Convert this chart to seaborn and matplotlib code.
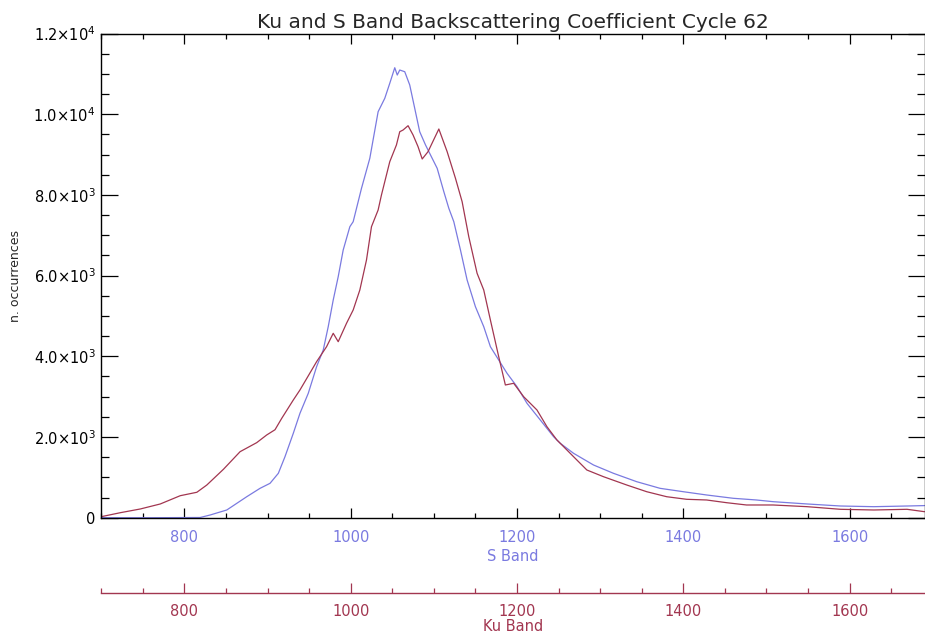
import matplotlib
matplotlib.use("Agg")
import matplotlib.pyplot as plt
import seaborn as sns
import pandas as pd
from matplotlib.ticker import MultipleLocator, FixedLocator

# ---- data ----
s_band_x = [700, 760, 819, 831, 851, 875, 891, 903, 913, 921, 931, 939, 949, 959, 967, 973,
            979, 985, 991, 999, 1003, 1013, 1023, 1033, 1041, 1047, 1053, 1056, 1059, 1065,
            1071, 1077, 1083, 1090, 1096, 1104, 1112, 1118, 1124, 1132, 1140, 1150, 1160,
            1168, 1178, 1188, 1200, 1212, 1228, 1244, 1252, 1268, 1292, 1316, 1344, 1372,
            1400, 1428, 1460, 1488, 1508, 1549, 1589, 1629, 1669, 1690]
s_band_y = [0, 0, 5, 67, 191, 520, 728, 852, 1100, 1512, 2092, 2587, 3083, 3742, 4156, 4734,
            5395, 5973, 6635, 7212, 7336, 8163, 8907, 10062, 10394, 10766, 11152, 10971, 11095,
            11053, 10724, 10146, 9566, 9237, 8989, 8659, 8080, 7668, 7336, 6635, 5891, 5229,
            4734, 4238, 3908, 3579, 3247, 2835, 2421, 2007, 1844, 1596, 1306, 1100, 892, 728,
            644, 563, 481, 439, 397, 340, 290, 273, 290, 300]

ku_band_x = [700, 723, 747, 771, 795, 815, 827, 847, 867, 887, 899, 909, 917, 931, 939, 959,
             971, 979, 985, 995, 1003, 1011, 1019, 1025, 1033, 1037, 1047, 1055, 1059, 1063,
             1069, 1075, 1081, 1086, 1093, 1106, 1116, 1126, 1134, 1142, 1152, 1160, 1168,
             1178, 1186, 1196, 1208, 1224, 1236, 1248, 1252, 1268, 1284, 1304, 1332, 1356,
             1380, 1404, 1428, 1452, 1476, 1508, 1549, 1589, 1629, 1669, 1690]
ku_band_y = [25, 124, 216, 340, 545, 630, 810, 1200, 1636, 1860, 2050, 2180, 2460, 2917, 3165,
             3866, 4238, 4570, 4362, 4818, 5148, 5643, 6387, 7212, 7626, 7998, 8823, 9237,
             9566, 9608, 9715, 9485, 9195, 8890, 9071, 9633, 9071, 8411, 7832, 6964, 6057,
             5643, 4900, 3990, 3289, 3331, 2999, 2669, 2255, 1926, 1844, 1512, 1182, 1016,
             810, 644, 520, 456, 439, 372, 315, 315, 273, 208, 191, 208, 149]

title = "Ku and S Band Backscattering Coefficient Cycle 62"
ylabel = "n. occurrences"
s_label = "S Band"
ku_label = "Ku Band"
x_ticks = [800, 1000, 1200, 1400, 1600]
y_ticks = [0, 2000, 4000, 6000, 8000, 10000, 12000]
y_ticklabels = ["0", r"$2.0{\times}10^{3}$", r"$4.0{\times}10^{3}$", r"$6.0{\times}10^{3}$",
                r"$8.0{\times}10^{3}$", r"$1.0{\times}10^{4}$", r"$1.2{\times}10^{4}$"]

BLUE = "#7a7ae0"
RED = "#a23650"

sns.set_style("ticks")
plt.rcParams["font.family"] = ["DejaVu Sans"]
plt.rcParams["mathtext.fontset"] = "dejavusans"

fig = plt.figure(figsize=(9.25, 6.37), dpi=100)
ax = fig.add_axes([101.2 / 925, 1 - 517.7 / 637, (924.5 - 101.2) / 925, (517.7 - 33.5) / 637])

df_s = pd.DataFrame({"x": s_band_x, "y": s_band_y})
df_k = pd.DataFrame({"x": ku_band_x, "y": ku_band_y})
sns.lineplot(data=df_s, x="x", y="y", ax=ax, color=BLUE, lw=0.9, estimator=None)
sns.lineplot(data=df_k, x="x", y="y", ax=ax, color=RED, lw=0.9, estimator=None)

ax.set_xlim(700, 1690)
ax.set_ylim(0, 12000)

for sp in ax.spines.values():
    sp.set_color("black")
    sp.set_linewidth(1.0)

ax.xaxis.set_major_locator(FixedLocator(x_ticks))
ax.xaxis.set_minor_locator(MultipleLocator(50))
ax.yaxis.set_major_locator(FixedLocator(y_ticks))
ax.set_yticklabels(y_ticklabels)
ax.yaxis.set_minor_locator(MultipleLocator(500))

ax.tick_params(axis="x", which="major", direction="in", length=7.5, width=0.9,
               top=True, bottom=True, labelsize=10.5, labelcolor=BLUE, pad=9, color="black")
ax.tick_params(axis="x", which="minor", direction="in", length=3.8, width=0.9,
               top=True, bottom=True, color="black")
ax.tick_params(axis="y", which="major", direction="in", length=12.5, width=0.9,
               left=True, right=True, labelsize=10.5, labelcolor="black", pad=4, color="black")
ax.tick_params(axis="y", which="minor", direction="in", length=6, width=0.9,
               left=True, right=True, color="black")

ax.set_xlabel(s_label, color=BLUE, fontsize=10.5, labelpad=3)
ax.set_ylabel(ylabel, fontsize=9, labelpad=8)
ax.set_title(title, fontsize=14.5, pad=4)

# secondary Ku band axis
sec = ax.secondary_xaxis(-(593.3 - 517.7) / 484.2)
sec.spines["bottom"].set_color(RED)
sec.spines["bottom"].set_linewidth(1.0)
sec.xaxis.set_major_locator(FixedLocator(x_ticks))
sec.xaxis.set_minor_locator(MultipleLocator(50))
sec.tick_params(axis="x", which="major", direction="in", length=7.5, width=0.9, color=RED,
                labelsize=10.5, labelcolor=RED, pad=8)
sec.tick_params(axis="x", which="minor", direction="in", length=3.8, width=0.9, color=RED)
sec.set_xlabel(ku_label, color=RED, fontsize=10.5, labelpad=0)

fig.savefig("out.png", dpi=100)
